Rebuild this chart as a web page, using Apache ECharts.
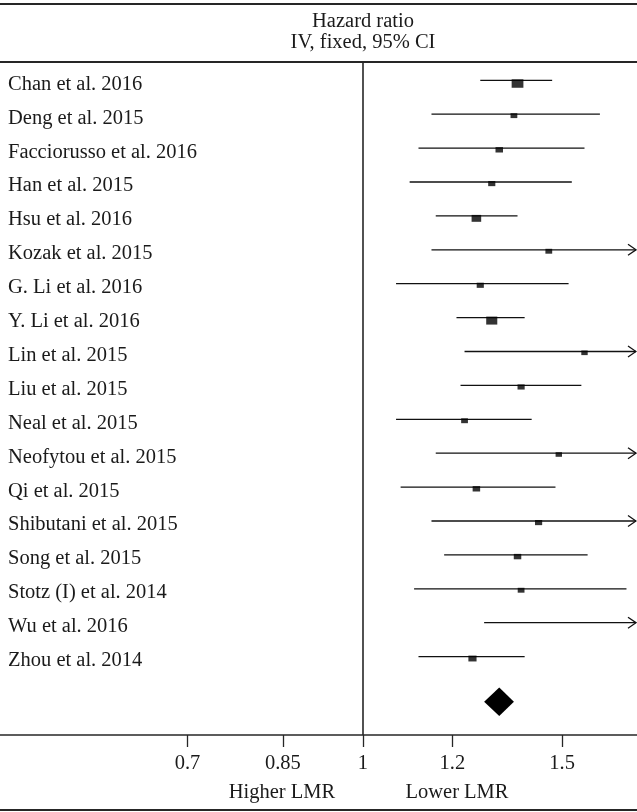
<!DOCTYPE html>
<html>
<head>
<meta charset="utf-8">
<script src="https://cdn.jsdelivr.net/npm/echarts@6/dist/echarts.min.js"></script>
<style>
  html, body { margin: 0; padding: 0; background: #fff; }
  #chart { width: 637px; height: 812px; }
</style>
</head>
<body>
<div id="chart"></div>
<script>
// Forest plot: LMR and overall survival, hazard ratios (IV, fixed, 95% CI)
const studies = [
  'Chan et al. 2016', 'Deng et al. 2015', 'Facciorusso et al. 2016', 'Han et al. 2015',
  'Hsu et al. 2016', 'Kozak et al. 2015', 'G. Li et al. 2016', 'Y. Li et al. 2016',
  'Lin et al. 2015', 'Liu et al. 2015', 'Neal et al. 2015', 'Neofytou et al. 2015',
  'Qi et al. 2015', 'Shibutani et al. 2015', 'Song et al. 2015', 'Stotz (I) et al. 2014',
  'Wu et al. 2016', 'Zhou et al. 2014'
];
const hazardRatio = [1.37, 1.36, 1.32, 1.30, 1.26, 1.46, 1.27, 1.30, 1.57, 1.38, 1.23, 1.49, 1.26, 1.43, 1.37, 1.38, 1.95, 1.25];
const ciLower     = [1.27, 1.15, 1.12, 1.10, 1.16, 1.15, 1.07, 1.21, 1.23, 1.22, 1.07, 1.16, 1.08, 1.15, 1.18, 1.11, 1.28, 1.12];
const ciUpper     = [1.47, 1.62, 1.57, 1.53, 1.37, 1.86, 1.52, 1.39, 2.01, 1.56, 1.41, 1.92, 1.48, 1.80, 1.58, 1.71, 2.98, 1.39];
const weights     = [13.5, 4.5, 5.5, 5.0, 9.0, 4.5, 5.0, 12.0, 4.0, 5.0, 4.5, 4.0, 5.5, 5.0, 5.5, 4.5, 1.5, 6.5];
const overall = { hr: 1.32, lower: 1.28, upper: 1.36 };
const tickValues = [0.7, 0.85, 1, 1.2, 1.5];
const tickLabels = ['0.7', '0.85', '1', '1.2', '1.5'];
const axisRange = { min: 0.478, max: 1.747 };
const sideLabels = ['Higher LMR', 'Lower LMR'];
const header = ['Hazard ratio', 'IV, fixed, 95% CI'];

const FONT = '"Liberation Serif", "DejaVu Serif", serif';
const FS = 20.5;
const INK = '#1a1a1a';
const RULE = '#262626';

const ln = Math.log;

// Study rows: [ln(lower), ln(upper), row]
const ciData = studies.map((s, i) => [ln(ciLower[i]), ln(ciUpper[i]), i]);
const pointData = studies.map((s, i) => {
  const w = 3.2 * Math.sqrt(weights[i]);
  const h = 0.72 * w;
  return {
    value: [ln(hazardRatio[i]), i],
    symbolSize: [w, h],
    symbolOffset: [0, h / 2 - 1]
  };
});
const overallRow = studies.length + 0.33;

// row extent of the plotting area; the label axis sits a few pixels lower
const rowMin = -0.54, rowMax = 19.313, labelShift = 0.12;

const chart = echarts.init(document.getElementById('chart'), null, { renderer: 'canvas' });

const option = {
  animation: false,
  backgroundColor: '#fff',
  grid: { left: 0, right: 0, top: 62, bottom: 77, containLabel: false },
  xAxis: {
    type: 'value',
    min: ln(axisRange.min),
    max: ln(axisRange.max),
    axisLine: { show: true, onZero: false, lineStyle: { color: RULE, width: 1.6 } },
    axisTick: {
      show: true, length: 12, inside: false,
      customValues: tickValues.map(ln),
      lineStyle: { color: RULE, width: 1.3 }
    },
    axisLabel: {
      show: true, margin: 18,
      customValues: tickValues.map(ln),
      fontFamily: FONT, fontSize: FS, color: INK,
      formatter: (v) => {
        const k = tickValues.findIndex(t => Math.abs(ln(t) - v) < 1e-6);
        return k >= 0 ? tickLabels[k] : '';
      }
    },
    splitLine: { show: false }
  },
  yAxis: [
    {
      type: 'value',
      inverse: true,
      min: rowMin,
      max: rowMax,
      axisLine: { show: false },
      axisTick: { show: false },
      splitLine: { show: false },
      axisLabel: { show: false }
    },
    {
      // study names
      type: 'value',
      position: 'left',
      inverse: true,
      min: rowMin - labelShift,
      max: rowMax - labelShift,
      axisLine: { show: false, onZero: false },
      axisTick: { show: false },
      splitLine: { show: false },
      axisLabel: {
        show: true, inside: true, margin: 8, align: 'left',
        customValues: studies.map((s, i) => i),
        fontFamily: FONT, fontSize: FS, color: INK,
        formatter: (v) => studies[Math.round(v)] || ''
      }
    }
  ],
  graphic: [
    { type: 'line', shape: { x1: 0, y1: 4, x2: 637, y2: 4 }, style: { stroke: RULE, lineWidth: 2 }, silent: true },
    { type: 'line', shape: { x1: 0, y1: 62, x2: 637, y2: 62 }, style: { stroke: RULE, lineWidth: 2 }, silent: true },
    { type: 'line', shape: { x1: 0, y1: 810, x2: 637, y2: 810 }, style: { stroke: RULE, lineWidth: 2 }, silent: true },
    { type: 'text', x: 363, y: 21.5, style: { text: header[0], font: FS + 'px ' + FONT, fill: INK, textAlign: 'center', textVerticalAlign: 'middle' }, silent: true },
    { type: 'text', x: 363, y: 43, style: { text: header[1], font: FS + 'px ' + FONT, fill: INK, textAlign: 'center', textVerticalAlign: 'middle' }, silent: true },
    { type: 'text', x: 282, y: 793, style: { text: sideLabels[0], font: FS + 'px ' + FONT, fill: INK, textAlign: 'center', textVerticalAlign: 'middle' }, silent: true },
    { type: 'text', x: 457, y: 793, style: { text: sideLabels[1], font: FS + 'px ' + FONT, fill: INK, textAlign: 'center', textVerticalAlign: 'middle' }, silent: true }
  ],
  series: [
    {
      // confidence intervals, with an open arrow when the upper limit runs past the axis
      type: 'custom',
      data: ciData,
      encode: { x: [0, 1], y: 2 },
      clip: false,
      silent: true,
      renderItem: (params, api) => {
        const row = api.value(2);
        const p1 = api.coord([api.value(0), row]);
        const p2 = api.coord([api.value(1), row]);
        const cs = params.coordSys;
        const xEnd = cs.x + cs.width - 1;
        const x1 = Math.max(p1[0], cs.x);
        const over = p2[0] > xEnd;
        const x2 = over ? xEnd : p2[0];
        const children = [{
          type: 'line',
          shape: { x1: x1, y1: p1[1], x2: x2, y2: p2[1] },
          style: { stroke: '#111', lineWidth: 1.3 }
        }];
        if (over) {
          children.push({
            type: 'polyline',
            shape: { points: [[x2 - 8, p2[1] - 5.5], [x2, p2[1]], [x2 - 8, p2[1] + 5.5]] },
            style: { stroke: '#111', lineWidth: 1.3, fill: null }
          });
        }
        return { type: 'group', children: children };
      }
    },
    {
      // point estimates, box size by study weight
      type: 'scatter',
      data: pointData,
      symbol: 'rect',
      clip: true,
      silent: true,
      itemStyle: { color: '#000' },
      markLine: {
        silent: true,
        symbol: 'none',
        label: { show: false },
        lineStyle: { color: RULE, width: 1.6, type: 'solid' },
        data: [{ xAxis: 0 }]
      }
    },
    {
      // pooled estimate
      type: 'custom',
      data: [[ln(overall.lower), ln(overall.hr), ln(overall.upper), overallRow]],
      encode: { x: [0, 1, 2], y: 3 },
      silent: true,
      renderItem: (params, api) => {
        const row = api.value(3);
        const a = api.coord([api.value(0), row]);
        const m = api.coord([api.value(1), row]);
        const b = api.coord([api.value(2), row]);
        const h = 14.3;
        return {
          type: 'polygon',
          shape: { points: [[a[0], a[1]], [m[0], m[1] - h], [b[0], b[1]], [m[0], m[1] + h]] },
          style: { fill: '#000' }
        };
      }
    }
  ]
};

chart.setOption(option);
</script>
</body>
</html>
